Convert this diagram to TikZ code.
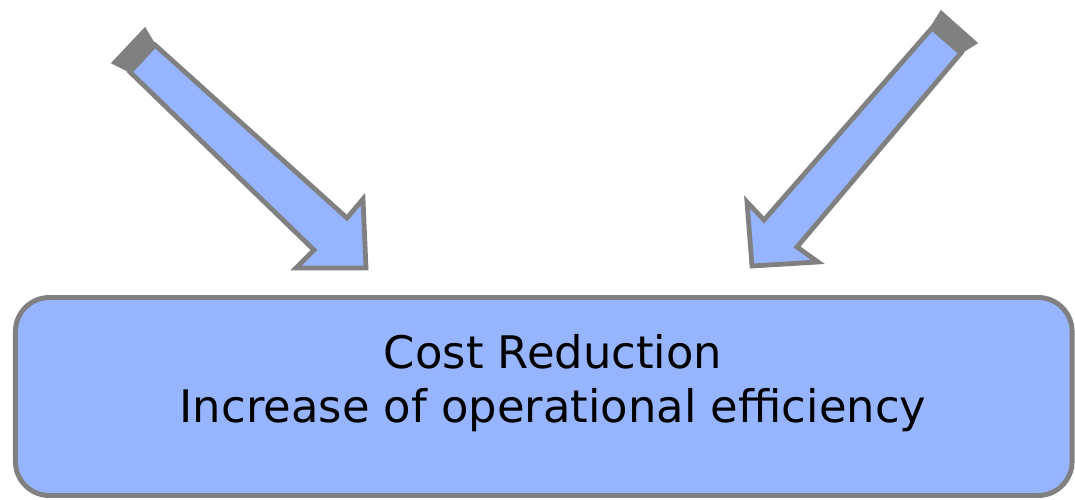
\documentclass[tikz,border=0pt]{standalone}
\usepackage{fontspec}
\setmainfont{DejaVu Sans}
\usepackage{xcolor}
\usetikzlibrary{positioning,calc}

\definecolor{boxblue}{RGB}{151,180,255}
\definecolor{edgegray}{RGB}{128,128,128}

\begin{document}
\begin{tikzpicture}[
    x=0.025cm, y=-0.025cm,
    goalbox/.style={rectangle, rounded corners=0.85cm, draw=edgegray, fill=boxblue, line width=3.5pt,
        minimum width=26.41cm, minimum height=4.95cm, inner sep=0pt},
    goaltext/.style={align=center, inner sep=0pt, font=\fontsize{31.9}{38.3}\selectfont},
    blockarrow/.style={draw=edgegray, fill=boxblue, line width=3.4pt, line join=miter},
    tailcap/.style={draw=edgegray, fill=edgegray, line width=1pt, line join=miter}
]
    \useasboundingbox (0,0) rectangle (1075,499);

    % Goal box
    \node[goalbox] (goal) at (543.75,396.5) {};
    \node[goaltext] (goaltext) at (553,383) {Cost Reduction\\Increase of operational efficiency};

    % Left arrow
    \coordinate (la1) at (130,72);
    \coordinate (la2) at (155,45);
    \draw[tailcap] (112,63) -- (145,28) -- (la2) -- (la1) -- cycle;
    \draw[blockarrow] (la1) -- (la2) -- (347,218) -- (363,199) -- (366,268) -- (296,268) -- (314,250) -- cycle;

    % Right arrow
    \coordinate (ra1) at (932,28);
    \coordinate (ra2) at (961,53);
    \draw[tailcap] (931,27) -- (941,11) -- (977,43) -- (ra2) -- (ra1) -- cycle;
    \draw[blockarrow] (ra1) -- (ra2) -- (797,247) -- (818,262) -- (752,266) -- (747,202) -- (764,220) -- cycle;
\end{tikzpicture}
\end{document}
